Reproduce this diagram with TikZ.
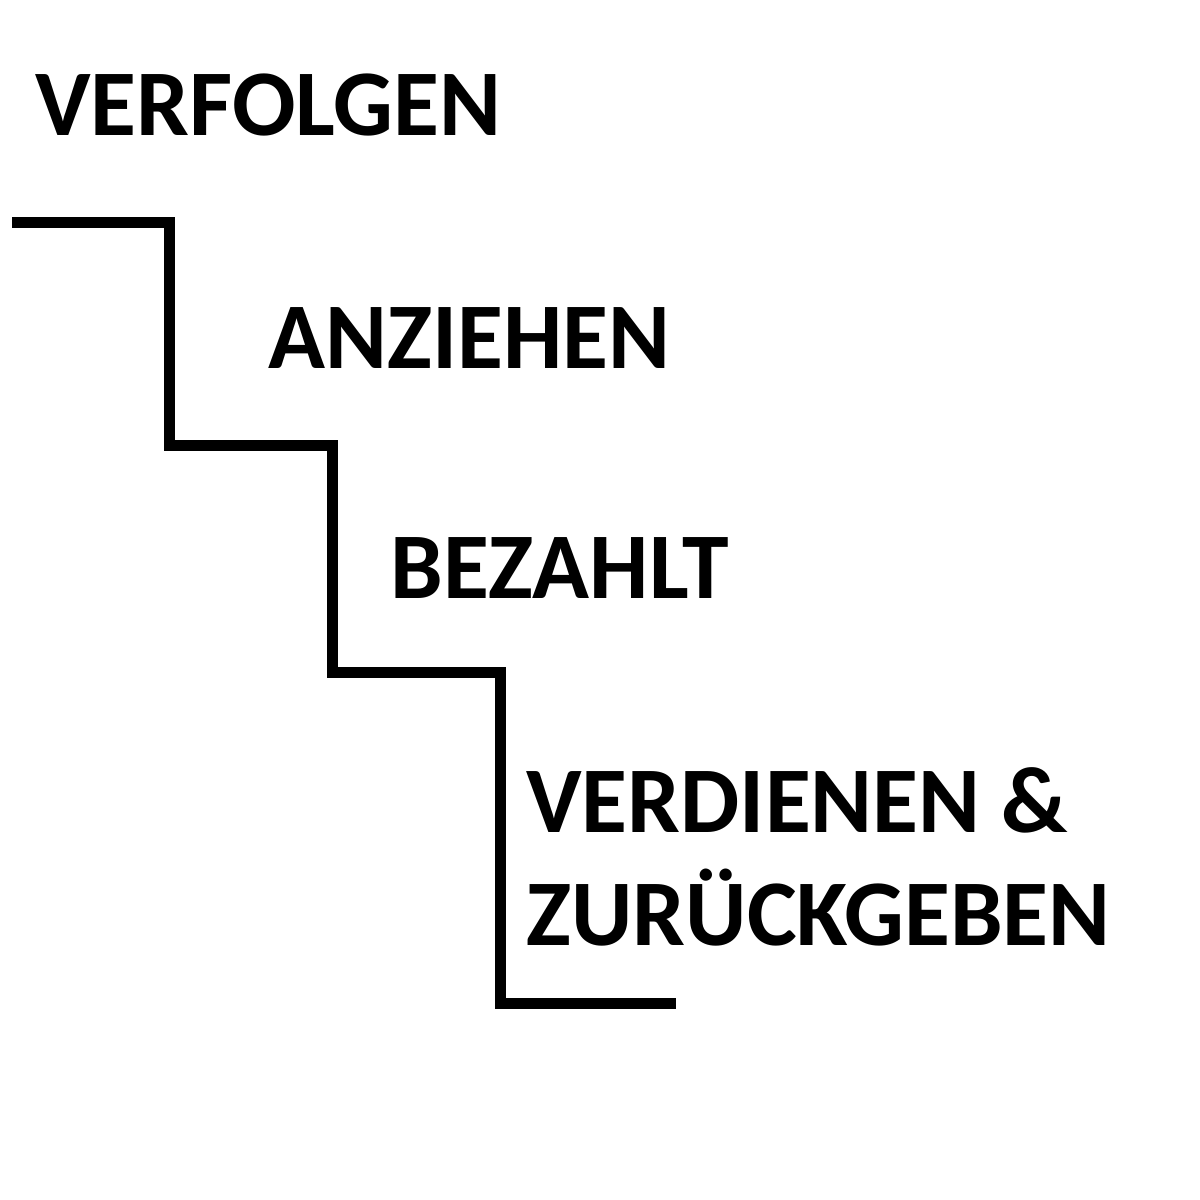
\documentclass[tikz,border=0pt]{standalone}
\usepackage{fontspec}
\setmainfont{Carlito}

\begin{document}
\begin{tikzpicture}[x=0.5pt,y=-0.5pt]
\tikzset{steplabel/.style={anchor=base west,inner sep=0pt,font=\fontsize{47pt}{57pt}\selectfont\bfseries}}
\useasboundingbox (0,0) rectangle (1200,1200);
% Draw the staircase
\draw[line width=5.5pt] (12,222) -- (169,222) -- (169,445) -- (332,445) -- (332,672) -- (500,672) -- (500,1003) -- (676,1003);
% Labels above each step
\node[steplabel] (verfolgen) at (35,135) {VERFOLGEN};
\node[steplabel] (anziehen) at (268,368) {ANZIEHEN};
\node[steplabel] (bezahlt) at (390,598) {BEZAHLT};
\node[steplabel] (verdienen) at (526,832) {VERDIENEN \&};
\node[steplabel] (zurueck) at (526,945) {ZURÜCKGEBEN};
\end{tikzpicture}
\end{document}
